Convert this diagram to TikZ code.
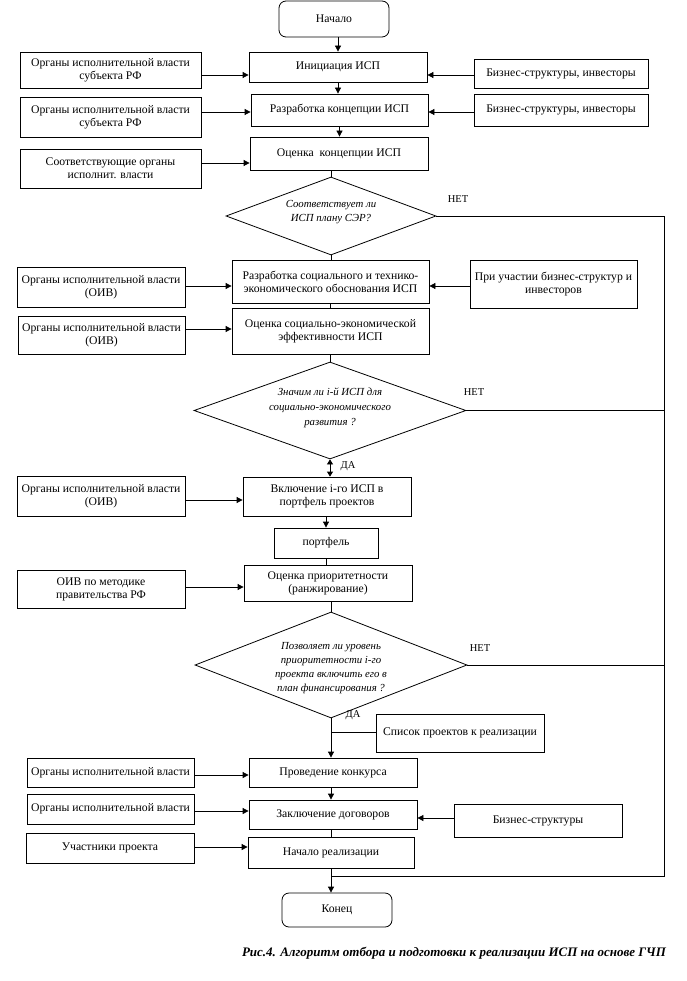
\documentclass[tikz,border=0pt]{standalone}
\usepackage{fontspec}
\setmainfont{Liberation Serif}
\usetikzlibrary{arrows.meta,shapes.geometric}
\begin{document}
\begin{tikzpicture}[x=1pt,y=-1pt,
  box/.style={draw, line width=0.8pt, align=center, inner sep=1pt, font=\fontsize{11.7}{13}\selectfont},
  term/.style={box, rounded corners=7pt},
  dia/.style={diamond, draw, line width=0.8pt, inner sep=0pt},
  dtext/.style={align=center, font=\fontsize{10.8}{14}\selectfont\itshape, inner sep=0pt},
  lbl/.style={font=\fontsize{10.5}{12}\selectfont, inner sep=0pt},
  arr/.style={line width=0.8pt, -{Triangle[length=6pt,width=6pt]}},
  darr/.style={line width=0.8pt, {Triangle[length=5pt,width=6pt]}-{Triangle[length=5pt,width=6pt]}},
  ln/.style={line width=0.8pt},
]
\useasboundingbox (0,0) rectangle (686,981);
% main column
\node[term, minimum width=110, minimum height=36] (start) at (334,19) {Начало};
\node[box, minimum width=178, minimum height=30] (init) at (338,67) {Инициация ИСП};
\node[box, minimum width=177, minimum height=32] (rk) at (339.5,110) {Разработка концепции ИСП};
\node[box, minimum width=178, minimum height=33] (ok) at (339,153.5) {Оценка\ \ концепции ИСП};
\node[dia, minimum width=210, minimum height=78] (d1) at (331,216) {};
\node[dtext] (d1t) at (331,212) {Соответствует ли\\ИСП плану СЭР?};
\node[box, minimum width=197, minimum height=43] (rs) at (330.5,282) {Разработка социального и технико-\\экономического обоснования ИСП};
\node[box, minimum width=197, minimum height=46] (os) at (330.5,331) {Оценка социально-экономической\\эффективности ИСП};
\node[dia, minimum width=272, minimum height=97] (d2) at (330,410.5) {};
\node[dtext, font=\fontsize{10.8}{15}\selectfont\itshape] (d2t) at (330,408) {Значим ли i-й ИСП для\\социально-экономического\\развития ?};
\node[box, minimum width=168, minimum height=39] (vk) at (327,496.5) {Включение i-го ИСП в\\портфель проектов};
\node[box, minimum width=104, minimum height=30] (pf) at (326,543) {портфель};
\node[box, minimum width=168, minimum height=36] (op) at (328,583) {Оценка приоритетности\\(ранжирование)};
\node[dia, minimum width=272, minimum height=106] (d3) at (331,665) {};
\node[dtext] (d3t) at (331,668) {Позволяет ли уровень\\приоритетности i-го\\проекта включить его в\\план финансирования ?};
\node[box, minimum width=168, minimum height=38] (sp) at (460,733) {Список проектов к реализации};
\node[box, minimum width=168, minimum height=29] (pr) at (333,772.5) {Проведение конкурса};
\node[box, minimum width=168, minimum height=29] (zk) at (333,814.5) {Заключение договоров};
\node[box, minimum width=166, minimum height=31] (nr) at (331,852.5) {Начало реализации};
\node[term, minimum width=110, minimum height=34] (end) at (337,910) {Конец};
% left column
\node[box, minimum width=181, minimum height=36] (l1) at (110.5,70) {Органы исполнительной власти\\субъекта РФ};
\node[box, minimum width=181, minimum height=40] (l2) at (110.5,117) {Органы исполнительной власти\\субъекта РФ};
\node[box, minimum width=181, minimum height=39] (l3) at (110.5,168.5) {Соответствующие органы\\исполнит. власти};
\node[box, minimum width=168, minimum height=40] (l4) at (101,287) {Органы исполнительной власти\\(ОИВ)};
\node[box, minimum width=167, minimum height=38] (l5) at (101.5,335) {Органы исполнительной власти\\(ОИВ)};
\node[box, minimum width=168, minimum height=40] (l6) at (101,496) {Органы исполнительной власти\\(ОИВ)};
\node[box, minimum width=168, minimum height=38] (l7) at (101,589) {ОИВ по методике\\правительства РФ};
\node[box, minimum width=167, minimum height=29] (l8) at (110.5,772.5) {Органы исполнительной власти};
\node[box, minimum width=167, minimum height=30] (l9) at (110.5,809) {Органы исполнительной власти};
\node[box, minimum width=168, minimum height=30] (l10) at (110,848) {Участники проекта};
% right column
\node[box, minimum width=174, minimum height=29] (r1) at (561,73.5) {Бизнес-структуры, инвесторы};
\node[box, minimum width=174, minimum height=32] (r2) at (561,110) {Бизнес-структуры, инвесторы};
\node[box, minimum width=167, minimum height=48] (r4) at (553.5,284) {При участии бизнес-структур и\\инвесторов};
\node[box, minimum width=168, minimum height=33] (r9) at (538,820.5) {Бизнес-структуры};
% labels
\node[lbl] (n1) at (458,199) {НЕТ};
\node[lbl] (n2) at (474,392) {НЕТ};
\node[lbl] (n3) at (480,648) {НЕТ};
\node[lbl] (y1) at (348,466) {ДА};
\node[lbl] (y2) at (353,715) {ДА};
\node[font=\fontsize{13}{15}\selectfont\bfseries\itshape, inner sep=0pt] (cap) at (454,953) {Рис.4. Алгоритм отбора и подготовки к реализации ИСП на основе ГЧП};
% main flow
\draw[arr] (start.south -| init.north) -- (init.north);
\draw[arr] (init.south) -- (init.south |- rk.north);
\draw[arr] (rk.south) -- (rk.south |- ok.north);
\draw[ln] (d1.north |- ok.south) -- (d1.north);
\draw[ln] (d1.south) -- (d1.south |- rs.north);
\draw[ln] (rs.south) -- (rs.south |- os.north);
\draw[ln] (os.south -| d2.north) -- (d2.north);
\draw[darr] (d2.south) -- (d2.south |- vk.north);
\draw[arr] (vk.south -| pf.north) -- (pf.north);
\draw[ln] (pf.south) -- (pf.south |- op.north);
\draw[ln] (op.south -| d3.north) -- (d3.north);
\draw[arr] (d3.south) -- (d3.south |- pr.north);
\draw[ln] (sp.west |- 0,732) -- (d3.south |- 0,732);
\draw[arr] (pr.south -| d3.south) -- (zk.north -| d3.south);
\draw[ln] (zk.south -| nr.south) -- (nr.north);
\draw[arr] (nr.south) -- (nr.south |- end.north);
% NO branches
\coordinate (rt) at (664,876);
\draw[ln] (d1.east) -- (d1.east -| rt) -- (rt) -- (rt -| nr.south);
\draw[ln] (d2.east) -- (d2.east -| rt);
\draw[ln] (d3.east) -- (d3.east -| rt);
% side inputs
\draw[arr] (l1.east |- 0,75) -- (init.west |- 0,75);
\draw[arr] (r1.west |- 0,75) -- (init.east |- 0,75);
\draw[arr] (l2.east |- 0,112) -- (rk.west |- 0,112);
\draw[arr] (r2.west |- 0,112) -- (rk.east |- 0,112);
\draw[arr] (l3.east |- 0,163) -- (ok.west |- 0,163);
\draw[arr] (l4.east |- 0,286) -- (rs.west |- 0,286);
\draw[arr] (r4.west |- 0,286) -- (rs.east |- 0,286);
\draw[arr] (l5.east |- 0,329) -- (os.west |- 0,329);
\draw[arr] (l6.east |- 0,500) -- (vk.west |- 0,500);
\draw[arr] (l7.east |- 0,587) -- (op.west |- 0,587);
\draw[arr] (l8.east |- 0,775) -- (pr.west |- 0,775);
\draw[arr] (l9.east |- 0,811) -- (zk.west |- 0,811);
\draw[arr] (r9.west |- 0,818) -- (zk.east |- 0,818);
\draw[arr] (l10.east |- 0,847) -- (nr.west |- 0,847);
\end{tikzpicture}
\end{document}
